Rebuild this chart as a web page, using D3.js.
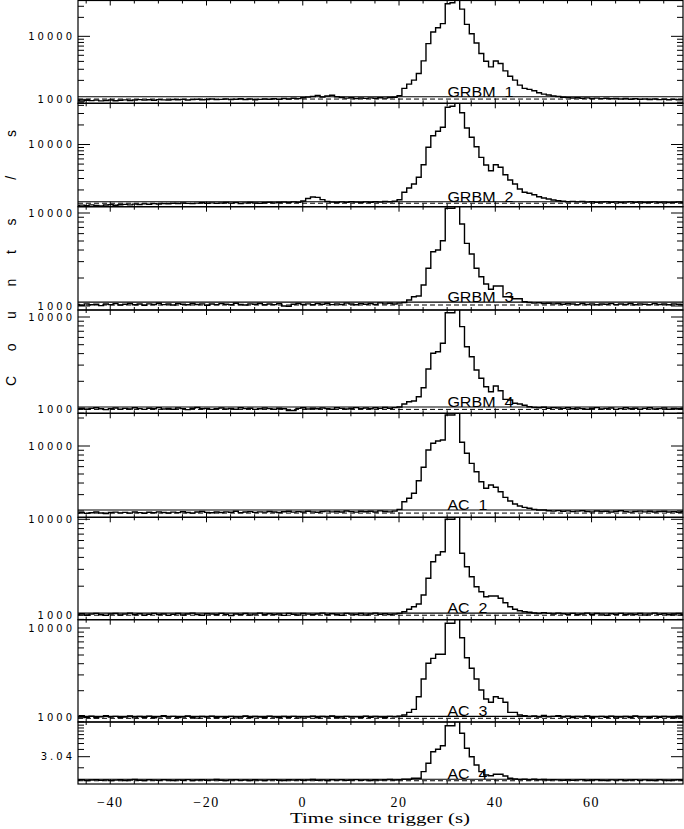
<!DOCTYPE html>
<html><head><meta charset="utf-8">
<script src="https://cdn.jsdelivr.net/npm/d3@7"></script>
<style>body{margin:0;background:#fff}svg{display:block}</style>
</head><body><svg id="c" width="684" height="829"></svg>
<script>
// ---------- data ----------
const panelNames = ["GRBM  1","GRBM  2","GRBM  3","GRBM  4","AC  1","AC  2","AC  3","AC  4"];
const binStart = -47.4;   // left edge of first 1-s bin (s)
const binWidth = 1;
const xDomain = [-46.7, 79.0];
const timeTicks = [-40, -20, 0, 20, 40, 60];

const grbm1 = [950,940,965,955,970,945,960,975,950,965,
980,960,975,990,970,985,965,990,980,975,
995,985,1000,975,990,1005,985,995,1010,990,
1000,1015,990,1005,1020,995,1010,985,1000,1015,
1005,1020,1000,1030,1015,1040,1025,1060,1085,1110,
1150,1090,1130,1160,1100,1070,1045,1060,1030,1050,
1035,1055,1040,1060,1045,1070,1080,
1140,1492,1745,2018,2576,4072,7670,11700,13700,15900,32900,34100,42000,27000,15500,11000,7840,5330,4030,3270,4070,3700,2830,2330,2020,1680,1490,1440,1370,1270,1210,1170,1130,1110,
1080,1065,1050,1060,1040,1055,1030,1045,1025,1040,1020,1035,1010,1030,1005,1020,1000,1015,995,1010,990,1005,985,1000,980,995];

const grbm2 = [1150,1170,1140,1180,1160,1135,1175,1190,1165,1185,
1200,1180,1210,1195,1220,1205,1230,1215,1240,1225,
1250,1235,1260,1245,1230,1255,1270,1250,1265,1245,
1260,1280,1255,1275,1240,1265,1285,1260,1250,1270,
1290,1265,1280,1300,1275,1310,1290,1350,1480,1560,
1540,1420,1330,1300,1285,1310,1290,1320,1300,1280,
1310,1295,1320,1300,1330,1315,1340,
1416,1840,2143,2467,3128,4890,9060,13650,15960,18400,37350,38700,50000,30850,17950,12900,9250,6350,4840,3950,4890,4460,3430,2840,2467,2067,1840,1775,1690,1573,1503,1452,1400,1366,
1340,1320,1335,1310,1325,1300,1315,1290,1305,1320,1295,1310,1285,1300,1315,1290,1305,1280,1295,1310,1285,1300,1275,1290,1305,1280];

const grbm3 = [1040,1020,1055,1030,1045,1010,1050,1035,1060,1025,
1045,1065,1030,1050,1020,1055,1040,1070,1035,1050,
1025,1060,1045,1030,1065,1040,1055,1020,1050,1035,
1060,1045,1030,1070,1040,1025,1055,1045,1065,1030,
1050,1035,1060,1000,995,1045,1065,1040,1055,1030,
1060,1045,1070,1035,1055,1040,1075,1050,1030,1060,
1045,1065,1040,1080,1055,1070,1050,
1075,1090,
1161,1259,1282,1682,2543,3837,4000,5036,11230,11230,14000,7620,4720,3623,2543,2065,1724,1512,1641,1641,1259,1259,1198,1198,1112,
1090,1075,1085,1060,1070,1055,1065,
1045,1060,1050,1035,1065,1040,1055,1030,1050,1045,1060,1035,1050,1040,1065,1030,1055,1045,1035,1060,1040,1050,1030,1055,1045,1035];

const grbm4 = [1000,1020,990,1015,1030,1005,985,1010,1025,995,
1015,1000,1030,1010,990,1020,1005,1035,1000,1015,
995,1025,1010,985,1020,1040,1005,1015,990,1010,
1025,1000,1015,995,1030,1010,1020,990,1005,1025,
1010,995,1020,1005,960,965,1015,1030,1000,1020,
1005,1025,1010,995,1030,1015,1000,1020,1035,1010,
1025,1005,1030,1015,1040,1020,1035,
1050,1133,1200,1222,1360,1705,2722,4030,4195,5180,11140,11140,14000,7850,4755,3700,2655,2157,1747,1542,1778,1581,1274,1253,1153,1133,1097,1059,
1040,1030,1045,1020,1035,1025,
1015,1030,1005,1025,1010,995,1020,1035,1000,1015,1025,990,1010,1030,1005,1020,995,1015,1030,1000,1010,1025,995,1015,1005,1020];

const ac1 = [1900,1930,1885,1915,1950,1905,1880,1925,1945,1910,
1935,1900,1955,1920,1890,1940,1915,1960,1925,1905,
1945,1920,1965,1930,1900,1950,1975,1935,1915,1955,
1930,1960,1940,1985,1920,1950,1970,1935,1960,1945,
1975,1950,1930,1965,1990,1945,1970,1955,1985,1960,
1940,1975,1995,1960,1980,1950,2000,1970,1945,1985,
1965,1990,1955,2005,1975,1960,1995,
2085,2518,2740,3100,4236,5900,9060,10690,11320,11600,21540,21540,26000,10960,8350,6510,5290,4130,3510,3807,3596,3225,2806,2562,2378,2263,2191,2138,2085,2050,2050,
2010,1995,2020,
1985,2005,1970,1995,2015,1980,1960,2000,1975,1990,1955,1985,2010,1970,1945,1980,1995,1960,1985,1950,1975,1990,1955,1970,1940,1965];

const ac2 = [1010,1030,995,1020,1040,1005,990,1025,1035,1000,
1020,1045,1005,1030,995,1015,1040,1010,1025,990,
1015,1035,1000,1025,1045,1010,995,1030,1020,1005,
1040,1015,985,1025,1010,1035,1000,1020,1045,1005,
1030,1010,1025,990,1040,1015,1000,1035,1020,1010,
1025,1045,1005,1030,1015,995,1040,1020,1010,1035,
1000,1025,1045,1015,1030,1010,1020,
1040,1083,1148,1221,1303,1618,2418,3606,4236,4585,10000,10000,13000,4415,3198,2512,1976,1751,1553,1580,1580,1494,1345,1221,1148,1109,1083,1067,
1050,1035,1060,1040,1025,1045,
1030,1015,1040,1005,1025,1045,1010,1035,1020,995,1030,1015,1040,1005,1025,1010,1035,1000,1020,1045,1015,1030,1005,1025,1040,1010];

const ac3 = [1030,1055,1010,1040,1000,1025,1050,1015,1035,1005,
1020,1045,995,1030,1010,1040,1000,1025,1050,1015,
1035,1005,1020,1045,1010,990,1030,1015,1040,1000,
1025,1010,1035,995,1020,1045,1005,1030,1015,1000,
1040,1020,1005,1030,1010,1035,995,1025,1015,1040,
1000,1030,1020,1045,1010,995,1035,1015,1025,1005,
1040,1010,1030,1020,1000,1035,1025,
1040,1072,1148,1240,1714,2700,4040,4590,5090,5090,11280,11280,15000,7800,4666,3555,2700,2036,1616,1486,1714,1644,1486,1148,1148,1072,1052,
1030,1045,1015,1060,1025,1035,1050,
1020,1040,1005,1030,1015,1045,1000,1025,1035,1010,1040,995,1020,1030,1005,1045,1015,1025,1000,1035,1010,1030,1020,995,1040,1015];

const ac4 = [1250,1270,1235,1260,1280,1245,1265,1230,1255,1275,
1240,1260,1285,1250,1235,1270,1255,1245,1275,1260,
1235,1265,1250,1280,1240,1260,1270,1245,1255,1285,
1250,1230,1265,1275,1245,1260,1240,1270,1255,1235,
1265,1280,1250,1240,1270,1255,1275,1245,1260,1285,
1250,1265,1240,1275,1255,1270,1245,1260,1280,1250,
1265,1240,1275,1255,1270,1285,1260,
1280,1300,1297,1345,1345,1727,2371,3672,4020,4607,9795,9795,13000,7360,4178,3040,2223,1727,1524,1484,1565,1565,1468,1345,
1310,1290,1300,1275,1295,1270,1285,1260,1280,1265,
1250,1270,1245,1265,1280,1240,1260,1275,1250,1235,1265,1255,1270,1240,1260,1280,1245,1265,1250,1235,1270,1255,1240,1260,1275,1250];

const series = [grbm1, grbm2, grbm3, grbm4, ac1, ac2, ac3, ac4];
const bgLine = [1100, 1320, 1100, 1050, 2050, 1045, 1035, 1297];   // fitted background level
const bgDash = [1010, 1250, 1025, 990, 1900, 995, 985, 1225];      // second background estimate
const yLow  = [865, 1105, 906, 898, 1712, 893, 896, 1084];
const yHigh = [37050, 43050, 11690, 11915, 22470, 10493, 12375, 11270];
const specialTick = {panel: 7, value: 3040, label: "3.04"};
const labelTime = 30.05;

// ---------- layout ----------
const L = 78, R = 683;
const edges = [0.5, 103.3, 206.7, 310, 413.3, 517.3, 619.7, 722, 784];
const svg = d3.select("#c");
const x = d3.scaleLinear().domain(xDomain).range([L, R]);
const defs = svg.append("defs");

series.forEach((data, p) => {
  const top = edges[p], bot = edges[p + 1];
  const y = d3.scaleLog().domain([yLow[p], yHigh[p]]).range([bot, top]);
  defs.append("clipPath").attr("id", "cp" + p).append("rect")
    .attr("x", L).attr("y", top).attr("width", R - L).attr("height", bot - top);
  const g = svg.append("g");
  const plot = g.append("g").attr("clip-path", `url(#cp${p})`);

  plot.append("line").attr("x1", x(xDomain[0])).attr("x2", x(xDomain[1]))
    .attr("y1", y(bgDash[p])).attr("y2", y(bgDash[p]))
    .attr("stroke", "#000").attr("stroke-width", 1).attr("stroke-dasharray", "5,3");
  plot.append("line").attr("x1", x(xDomain[0])).attr("x2", x(xDomain[1]))
    .attr("y1", y(bgLine[p])).attr("y2", y(bgLine[p]))
    .attr("stroke", "#000").attr("stroke-width", 1.1);

  const pts = data.map((v, i) => [binStart + i * binWidth, v]);
  pts.push([binStart + data.length * binWidth, data[data.length - 1]]);
  const line = d3.line().x(d => x(d[0])).y(d => y(d[1])).curve(d3.curveStepAfter);
  plot.append("path").attr("d", line(pts)).attr("fill", "none")
    .attr("stroke", "#000").attr("stroke-width", 1.4);

  // frame
  g.append("rect").attr("x", L).attr("y", top).attr("width", R - L).attr("height", bot - top)
    .attr("fill", "none").attr("stroke", "#000").attr("stroke-width", 1.2);

  // y ticks
  let ticks = y.ticks().map(v => ({v, major: Math.abs(Math.log10(v) - Math.round(Math.log10(v))) < 1e-9, label: null}));
  ticks.forEach(t => { if (t.major) t.label = d3.format("d")(t.v); });
  if (p === specialTick.panel) {
    ticks = ticks.filter(t => Math.abs(t.v - 3000) > 1).map(t => ({v: t.v, major: false, label: null}));
    ticks.push({v: specialTick.value, major: true, label: specialTick.label});
  }
  ticks.forEach(t => {
    const yy = y(t.v), len = t.major ? 12 : 6;
    g.append("line").attr("x1", L).attr("x2", L + len).attr("y1", yy).attr("y2", yy)
      .attr("stroke", "#000").attr("stroke-width", 1);
    g.append("line").attr("x1", R).attr("x2", R - len).attr("y1", yy).attr("y2", yy)
      .attr("stroke", "#000").attr("stroke-width", 1);
    if (t.label) {
      g.append("text").attr("x", 75).attr("y", yy).attr("dy", "0.36em")
        .attr("text-anchor", "end").attr("font-family", "DejaVu Sans")
        .attr("font-size", 10).attr("letter-spacing", "3px").attr("fill", "#000")
        .text(t.label);
    }
  });

  // x ticks (top & bottom of each panel)
  d3.range(-45, 80, 5).forEach(t => {
    const xx = x(t), len = (t % 20 === 0) ? 5 : 3;
    g.append("line").attr("x1", xx).attr("x2", xx).attr("y1", top).attr("y2", top + len)
      .attr("stroke", "#000").attr("stroke-width", 1);
    g.append("line").attr("x1", xx).attr("x2", xx).attr("y1", bot).attr("y2", bot - len)
      .attr("stroke", "#000").attr("stroke-width", 1);
  });

  // panel label
  const isG = panelNames[p].startsWith("GRBM");
  g.append("text").attr("x", x(labelTime)).attr("y", y(bgLine[p]))
    .attr("font-family", "Liberation Sans").attr("font-size", 15).attr("fill", "#000")
    .attr("textLength", isG ? 66 : 40).attr("lengthAdjust", "spacingAndGlyphs")
    .style("white-space", "pre").text(panelNames[p]);
});

// x tick labels
timeTicks.forEach(t => {
  svg.append("text").attr("x", x(t)).attr("y", 807).attr("text-anchor", "middle")
    .attr("font-family", "Liberation Serif").attr("font-size", 14).attr("letter-spacing", "1.5px")
    .text(t < 0 ? "\u2212" + Math.abs(t) : String(t));
});
// x title
svg.append("text").attr("x", 290).attr("y", 823)
  .attr("font-family", "Liberation Serif").attr("font-size", 15)
  .attr("textLength", 180).attr("lengthAdjust", "spacingAndGlyphs")
  .text("Time since trigger (s)");
// y title
svg.append("text").attr("transform", "translate(16,258) rotate(-90)")
  .attr("text-anchor", "middle").attr("font-family", "Liberation Sans").attr("font-size", 14)
  .style("white-space", "pre")
  .attr("textLength", 256).attr("lengthAdjust", "spacing")
  .text("C o u n t s  /  s");
</script></body></html>
